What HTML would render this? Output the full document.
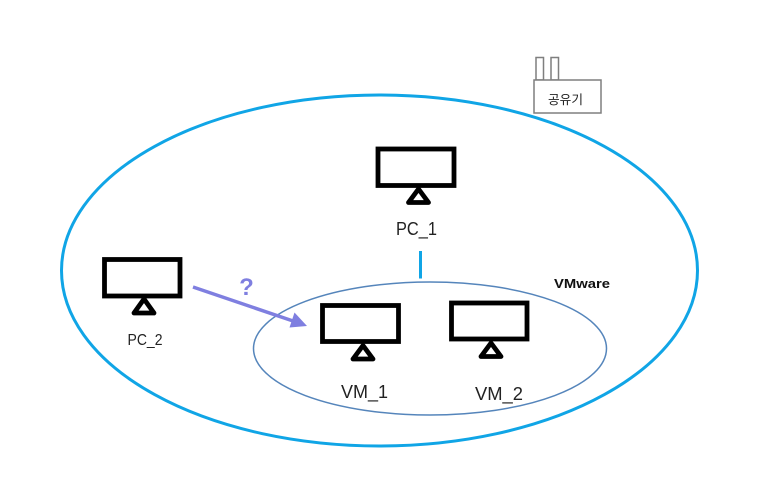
<!DOCTYPE html>
<html>
<head>
<meta charset="utf-8">
<style>
html,body{margin:0;padding:0;background:#fff;width:774px;height:492px;overflow:hidden}
svg{display:block}
text{font-family:"Liberation Sans","Noto Sans CJK KR",sans-serif;fill:#222}
</style>
</head>
<body>
<svg width="774" height="492" viewBox="0 0 774 492" xmlns="http://www.w3.org/2000/svg">
<rect width="774" height="492" fill="#fff"/>
<ellipse cx="379.5" cy="270.5" rx="318" ry="175.5" fill="none" stroke="#10a5e6" stroke-width="3"/>
<ellipse cx="430" cy="348.5" rx="176.5" ry="66.5" fill="none" stroke="#5585bb" stroke-width="1.5"/>
<line x1="420.5" y1="251" x2="420.5" y2="278.5" stroke="#10a5e6" stroke-width="3"/>

<g fill="#fff" stroke="#7f7f7f" stroke-width="1.5">
<rect x="536" y="57.500" width="7.500" height="22.500"/>
<rect x="551" y="57.500" width="7.500" height="22.500"/>
<rect x="534" y="80" width="67" height="33"/>
</g>
<text x="548" y="104" font-size="12.500" textLength="35" lengthAdjust="spacingAndGlyphs">공유기</text>

<g fill="#fff" stroke="#000" stroke-width="4.800">
<rect x="378" y="149" width="76" height="36.500"/>
<path d="M418.500 189 L428.500 202.500 L408.500 202.500 Z" stroke-linejoin="round"/>
</g>
<g fill="#fff" stroke="#000" stroke-width="4.800">
<rect x="104.500" y="259.500" width="75.500" height="36.500"/>
<path d="M144 299 L154 313 L134 313 Z" stroke-linejoin="round"/>
</g>
<g fill="#fff" stroke="#000" stroke-width="4.800">
<rect x="322.500" y="305.500" width="76" height="36"/>
<path d="M363 345.500 L373 359 L353 359 Z" stroke-linejoin="round"/>
</g>
<g fill="#fff" stroke="#000" stroke-width="4.800">
<rect x="451.500" y="303" width="75.500" height="36"/>
<path d="M491 343 L501 356.500 L481 356.500 Z" stroke-linejoin="round"/>
</g>

<text x="396" y="235" font-size="18" textLength="41" lengthAdjust="spacingAndGlyphs">PC_1</text>
<text x="127.500" y="345" font-size="16" textLength="35" lengthAdjust="spacingAndGlyphs">PC_2</text>
<text x="341" y="398" font-size="18" textLength="47" lengthAdjust="spacingAndGlyphs">VM_1</text>
<text x="475" y="400" font-size="18" textLength="48" lengthAdjust="spacingAndGlyphs">VM_2</text>
<text x="554" y="288" font-size="13" font-weight="bold" textLength="56" lengthAdjust="spacingAndGlyphs" style="fill:#111">VMware</text>
<text x="246.500" y="295" font-size="24" font-weight="bold" text-anchor="middle" style="fill:#7f7fe0">?</text>

<line x1="193" y1="287" x2="296" y2="322" stroke="#7f7fe0" stroke-width="3.500"/>
<path d="M307 326 L289.500 327.500 L294.500 312.500 Z" fill="#7f7fe0"/>
</svg>
</body>
</html>
